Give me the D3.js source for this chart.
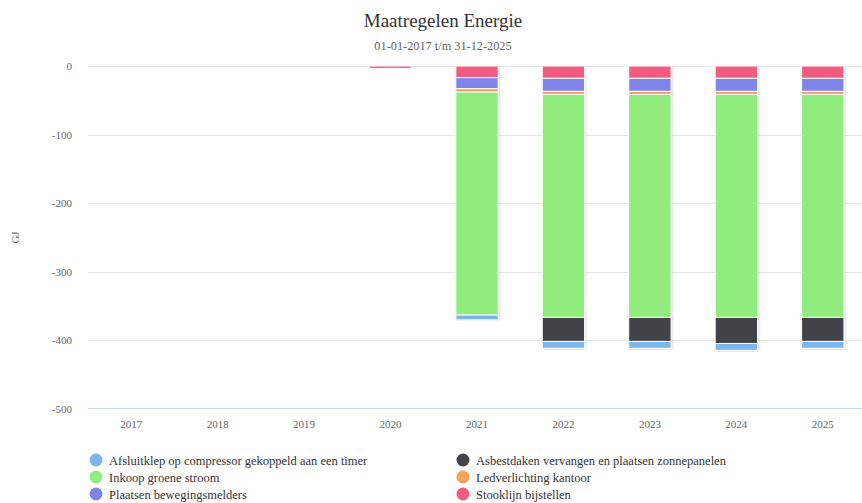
<!DOCTYPE html>
<html lang="nl">
<head>
<meta charset="UTF-8">
<title>Maatregelen Energie</title>
<script src="https://cdnjs.cloudflare.com/ajax/libs/d3/7.8.5/d3.min.js"></script>
<style>
  body { margin: 0; background: #fff; }
  svg { display: block; font-family: "Liberation Serif", "DejaVu Serif", serif; }
</style>
</head>
<body>
<svg id="chart" width="862" height="503"></svg>
<script>
// data (GJ, negative = saving)
const years = ["2017", "2018", "2019", "2020", "2021", "2022", "2023", "2024", "2025"];
const afsluitklep      = [0, 0, 0, 0, -7, -10, -10, -10, -10];
const asbestdaken      = [0, 0, 0, 0, 0, -35, -35, -38, -35];
const groeneStroom     = [0, 0, 0, 0, -325, -325, -325, -325, -325];
const ledverlichting   = [0, 0, 0, 0, -5, -4.5, -4.5, -4.5, -4.5];
const bewegingsmelders = [0, 0, 0, 0, -16, -19, -19, -19, -19];
const stooklijn        = [0, 0, 0, -3.5, -17, -18, -18, -18, -18];
const yTicks = [0, -100, -200, -300, -400, -500];

const series = [
  { name: "Afsluitklep op compressor gekoppeld aan een timer", values: afsluitklep, color: "#7cb5ec" },
  { name: "Asbestdaken vervangen en plaatsen zonnepanelen", values: asbestdaken, color: "#434348" },
  { name: "Inkoop groene stroom", values: groeneStroom, color: "#90ed7d" },
  { name: "Ledverlichting kantoor", values: ledverlichting, color: "#f7a35c" },
  { name: "Plaatsen bewegingsmelders", values: bewegingsmelders, color: "#8085e9" },
  { name: "Stooklijn bijstellen", values: stooklijn, color: "#f15c80" }
];

const svg = d3.select("#chart");
const margin = { left: 88, top: 66, right: 866, bottom: 409 };

const x = d3.scaleBand().domain(years).range([margin.left, margin.right]).paddingInner(0).paddingOuter(0);
const y = d3.scaleLinear().domain([-500, 0]).range([margin.bottom, margin.top]);

// shadow like highcharts columns
const defs = svg.append("defs");
defs.append("filter").attr("id", "shadow")
  .attr("x", "-20%").attr("y", "-20%").attr("width", "140%").attr("height", "140%")
  .append("feDropShadow")
  .attr("dx", 1).attr("dy", 1).attr("stdDeviation", 1)
  .attr("flood-color", "#000").attr("flood-opacity", 0.15);

// titles
svg.append("text").attr("x", 443).attr("y", 27).attr("text-anchor", "middle")
  .attr("font-size", 19).attr("fill", "#333").text("Maatregelen Energie");
svg.append("text").attr("x", 443).attr("y", 50).attr("text-anchor", "middle")
  .attr("font-size", 12.3).attr("fill", "#666").text("01-01-2017 t/m 31-12-2025");

// grid
svg.append("g").selectAll("line")
  .data(yTicks.filter(d => d !== -500))
  .join("line")
  .attr("x1", margin.left).attr("x2", margin.right)
  .attr("y1", d => Math.round(y(d)) + 0.5).attr("y2", d => Math.round(y(d)) + 0.5)
  .attr("stroke", "#e6e6e6");

// y labels
svg.append("g").selectAll("text")
  .data(yTicks)
  .join("text")
  .attr("x", 72).attr("y", d => y(d) + 4)
  .attr("text-anchor", "end").attr("font-size", 11).attr("fill", "#666")
  .text(d => d);

svg.append("text")
  .attr("transform", "translate(19," + y(-250) + ") rotate(-90)")
  .attr("text-anchor", "middle").attr("font-size", 11).attr("fill", "#666")
  .text("GJ");

// stacks: last series sits next to zero
const stackOrder = series.slice().reverse();
const cols = svg.append("g");
years.forEach((yr, i) => {
  let base = 0;
  stackOrder.forEach(s => {
    const v = s.values[i];
    if (!v) return;
    const top = base, bottom = base + v;
    base = bottom;
    cols.append("rect")
      .attr("x", x(yr) + x.bandwidth() * 0.255)
      .attr("width", x.bandwidth() * 0.49)
      .attr("y", y(top))
      .attr("height", y(bottom) - y(top))
      .attr("fill", s.color)
      .attr("stroke", "#fff").attr("stroke-width", 1)
      .attr("filter", "url(#shadow)");
  });
});

// x axis
svg.append("line")
  .attr("x1", margin.left).attr("x2", margin.right)
  .attr("y1", margin.bottom - 0.5).attr("y2", margin.bottom - 0.5)
  .attr("stroke", "#ccd6eb");
svg.append("g").selectAll("text")
  .data(years)
  .join("text")
  .attr("x", d => x(d) + x.bandwidth() / 2).attr("y", 428)
  .attr("text-anchor", "middle").attr("font-size", 11).attr("fill", "#666")
  .text(d => d);

// legend, two columns row-wise
const legend = svg.append("g");
series.forEach((s, i) => {
  const col = i % 2, row = Math.floor(i / 2);
  const lx = col === 0 ? 96 : 463;
  const ly = 460 + row * 17;
  legend.append("circle").attr("cx", lx).attr("cy", ly).attr("r", 6.5).attr("fill", s.color);
  legend.append("text").attr("x", lx + 13).attr("y", ly + 4.5)
    .attr("font-size", 12.5).attr("fill", "#333").text(s.name);
});
</script>
</body>
</html>
